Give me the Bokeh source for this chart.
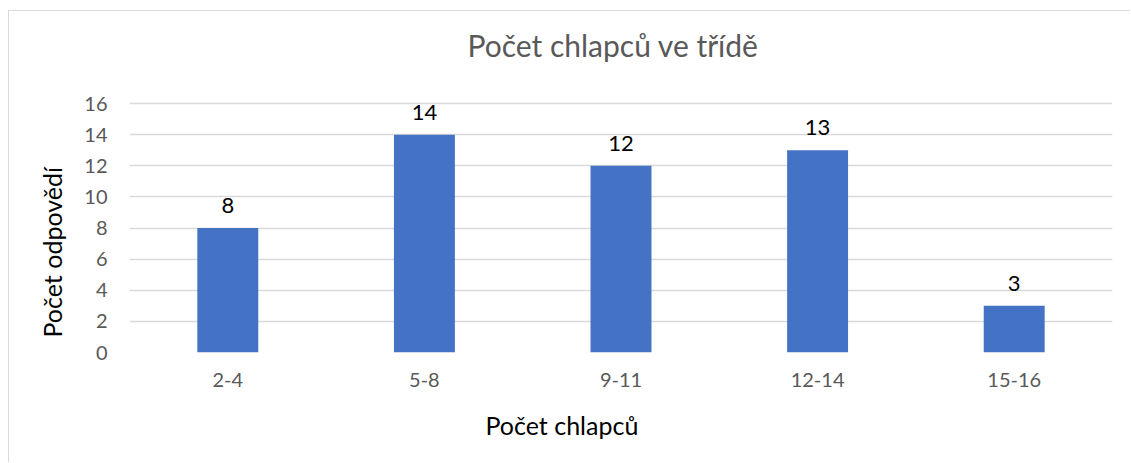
from bokeh.plotting import figure
from bokeh.models import ColumnDataSource, Range1d, FactorRange, LabelSet, Label, FixedTicker, Title
from bokeh.core.properties import value
from bokeh.embed import file_html
from bokeh.resources import INLINE

categories = ["2-4", "5-8", "9-11", "12-14", "15-16"]
counts = [8, 14, 12, 13, 3]
y_ticks = [0, 2, 4, 6, 8, 10, 12, 14, 16]

title_text = "Počet chlapců ve třídě"
x_label_text = "Počet chlapců"
y_label_text = "Počet  odpovědí"

FONT = "Lato"
GRAY = "#595959"

# layout (pixels): frame spans 330 px, the 0..16 axis occupies 249 px of it
FRAME_H = 330
AXIS_H = 249
y_top = y_ticks[-1] * FRAME_H / AXIS_H

src = ColumnDataSource(data=dict(cat=categories, val=counts, lab=[str(v) for v in counts]))

p = figure(
    width=1122, height=452,
    x_range=FactorRange(*categories, range_padding=0),
    y_range=Range1d(0, y_top),
    output_backend="svg", toolbar_location=None,
    min_border_left=120, min_border_right=19, min_border_top=11, min_border_bottom=111,
)
p.styles = {"border-top": "1px solid #D9D9D9", "border-left": "1px solid #D9D9D9",
            "margin-top": "10px", "margin-left": "8px"}
p.outline_line_color = None
p.background_fill_color = "white"
p.border_fill_color = "white"

p.vbar(x="cat", top="val", width=0.31, source=src, fill_color="#4472C4", line_color=None)

labels = LabelSet(x="cat", y="val", text="lab", source=src, text_align="center",
                  text_baseline="alphabetic", y_offset=15, text_font=value(FONT),
                  text_font_size="22px", text_color="#000000")
p.add_layout(labels)

p.yaxis.ticker = FixedTicker(ticks=y_ticks)
for ax in (p.xaxis[0], p.yaxis[0]):
    ax.axis_line_color = None
    ax.major_tick_line_color = None
    ax.minor_tick_line_color = None
    ax.major_tick_in = 0
    ax.major_tick_out = 0
    ax.major_label_text_font = FONT
    ax.major_label_text_font_size = "20px"
    ax.major_label_text_color = GRAY
p.yaxis.major_label_standoff = 22
p.xaxis.major_label_standoff = 20

p.xgrid.grid_line_color = None
p.ygrid.grid_line_color = "#D9D9D9"
p.ygrid.grid_line_width = 1.5

p.add_layout(Label(x=338, y=308, x_units="screen", y_units="screen", text=title_text,
                   text_align="left", text_baseline="alphabetic", text_font=FONT,
                   text_font_size="30px", text_color=GRAY))

p.add_layout(Title(text=x_label_text, align="left", offset=356, standoff=37,
                   text_font=FONT, text_font_size="25px", text_font_style="normal",
                   text_color="#000000"), "below")
p.add_layout(Title(text=y_label_text, align="left", offset=15, standoff=30,
                   text_font=FONT, text_font_size="25px", text_font_style="normal",
                   text_color="#000000"), "left")

open("out.html", "w").write(file_html(p, INLINE))
